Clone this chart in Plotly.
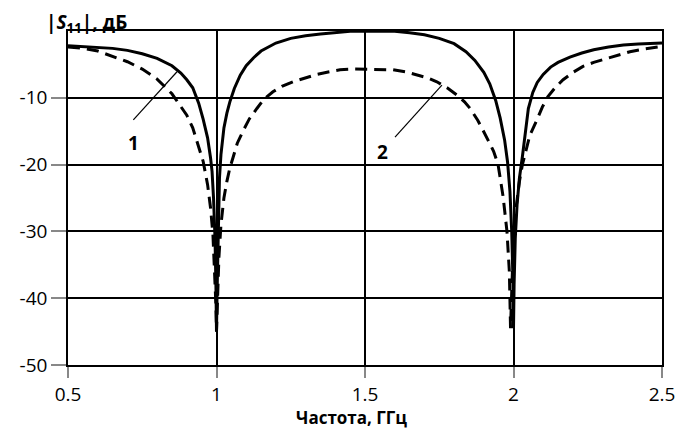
import plotly.graph_objects as go

# Curve 1 (solid)
freq1 = [0.5, 0.55, 0.6, 0.65, 0.7, 0.75, 0.8, 0.85, 0.88, 0.9, 0.92, 0.94, 0.955, 0.97, 0.98,
         0.985, 0.99, 0.995, 0.998, 1.0, 1.002, 1.005, 1.01, 1.015, 1.025, 1.035, 1.045, 1.06,
         1.08, 1.1, 1.125, 1.15, 1.2, 1.25, 1.3, 1.35, 1.4, 1.45, 1.5, 1.55, 1.6, 1.65, 1.7,
         1.75, 1.8, 1.84, 1.87, 1.9, 1.92, 1.94, 1.955, 1.97, 1.98, 1.988, 1.994, 1.998, 2.0,
         2.002, 2.006, 2.012, 2.02, 2.03, 2.04, 2.05, 2.065, 2.08, 2.1, 2.125, 2.15, 2.19,
         2.23, 2.27, 2.32, 2.37, 2.42, 2.46, 2.5]
s11_1 = [-2.2, -2.3, -2.4, -2.6, -2.9, -3.4, -4.1, -5.2, -6.3, -7.3, -8.5, -10.8, -13.2, -16.0,
         -19.0, -21.0, -25.0, -31.0, -38.0, -45.0, -39.0, -32.0, -22.0, -18.5, -14.5, -12.3,
         -10.6, -8.6, -6.6, -5.2, -4.0, -3.0, -1.8, -1.1, -0.7, -0.45, -0.2, -0.05, 0.0, 0.0,
         -0.05, -0.25, -0.55, -1.1, -1.9, -3.1, -4.4, -6.2, -7.9, -10.4, -13.0, -16.3, -19.6,
         -24.0, -30.0, -37.0, -44.5, -38.0, -31.0, -26.0, -22.0, -18.8, -14.8, -11.6, -9.2,
         -7.7, -6.5, -5.4, -4.7, -3.9, -3.3, -2.8, -2.4, -2.1, -1.95, -1.85, -1.8]

# Curve 2 (dashed)
freq2 = [0.5, 0.55, 0.6, 0.65, 0.7, 0.75, 0.8, 0.85, 0.88, 0.9, 0.92, 0.94, 0.955, 0.97, 0.98,
         0.988, 0.994, 0.998, 1.0, 1.003, 1.008, 1.015, 1.025, 1.035, 1.045, 1.056, 1.07, 1.089,
         1.11, 1.136, 1.16, 1.19, 1.22, 1.258, 1.3, 1.338, 1.38, 1.416, 1.46, 1.5, 1.55, 1.594,
         1.635, 1.675, 1.71, 1.742, 1.78, 1.81, 1.835, 1.854, 1.88, 1.899, 1.915, 1.933, 1.948,
         1.965, 1.978, 1.986, 1.99, 1.994, 2.0, 2.01, 2.02, 2.03, 2.039, 2.055, 2.079, 2.097,
         2.116, 2.14, 2.167, 2.2, 2.234, 2.27, 2.315, 2.35, 2.392, 2.44, 2.483, 2.5]
s11_2 = [-2.4, -2.6, -3.0, -3.8, -4.6, -5.7, -7.2, -9.4, -11.3, -12.6, -14.5, -17.2, -19.5,
         -23.0, -26.5, -30.5, -36.0, -41.0, -45.0, -40.0, -34.0, -29.0, -25.0, -22.5, -20.5,
         -18.9, -16.8, -15.0, -13.2, -11.6, -10.2, -9.1, -8.3, -7.6, -7.0, -6.5, -6.1, -5.8,
         -5.7, -5.7, -5.7, -5.8, -6.1, -6.6, -7.0, -7.6, -8.6, -9.6, -10.6, -11.6, -13.4, -15.0,
         -16.4, -18.0, -20.0, -24.8, -30.0, -36.0, -44.5, -38.0, -31.0, -26.0, -22.5, -20.0,
         -18.3, -15.6, -13.3, -11.4, -9.8, -8.5, -7.3, -6.2, -5.3, -4.7, -4.1, -3.6, -3.1,
         -2.7, -2.4, -2.3]

x_ticks = [0.5, 1, 1.5, 2, 2.5]
x_labels = ["0.5", "1", "1.5", "2", "2.5"]
y_ticks = [-50, -40, -30, -20, -10]
y_labels = ["-50", "-40", "-30", "-20", "-10"]

FONT = "Open Sans"

fig = go.Figure()
fig.add_trace(go.Scatter(x=freq2, y=s11_2, mode="lines",
                         line=dict(color="black", width=3, dash="12px,7px"),
                         showlegend=False, hoverinfo="skip"))
fig.add_trace(go.Scatter(x=freq1, y=s11_1, mode="lines",
                         line=dict(color="black", width=3),
                         showlegend=False, hoverinfo="skip"))

# leader lines for labels
fig.add_trace(go.Scatter(x=[0.72, 0.867], y=[-13.3, -6.1], mode="lines",
                         line=dict(color="black", width=1.2), showlegend=False, hoverinfo="skip"))
fig.add_trace(go.Scatter(x=[1.601, 1.759], y=[-15.9, -8.1], mode="lines",
                         line=dict(color="black", width=1.2), showlegend=False, hoverinfo="skip"))

fig.add_annotation(x=0.719, y=-16.8, text="<b>1</b>", showarrow=False,
                   font=dict(family=FONT, size=19, color="black"))
fig.add_annotation(x=1.56, y=-18.1, text="<b>2</b>", showarrow=False,
                   font=dict(family=FONT, size=19, color="black"))

fig.add_annotation(xref="paper", yref="paper", x=-0.04, y=1.024, xanchor="left", yanchor="middle",
                   text="<b>|<i>S</i><sub>11</sub>|, дБ</b>", showarrow=False,
                   font=dict(family=FONT, size=19, color="black"))
fig.add_annotation(xref="paper", yref="paper", x=0.478, y=-0.1976, xanchor="center", yanchor="bottom",
                   text="<b>Частота, ГГц</b>", showarrow=False,
                   font=dict(family=FONT, size=17, color="black"))

fig.update_layout(
    width=682, height=430,
    margin=dict(l=68, r=20, t=31, b=65, autoexpand=False),
    paper_bgcolor="white", plot_bgcolor="white",
    font=dict(family=FONT, size=19, color="black"),
    showlegend=False,
)
fig.update_xaxes(range=[0.5, 2.5], tickvals=x_ticks, ticktext=x_labels,
                 showgrid=True, gridcolor="black", gridwidth=1.5,
                 showline=True, linecolor="black", linewidth=1.5, mirror=True,
                 ticks="outside", ticklen=11, tickcolor="#888888", tickwidth=1.5,
                 zeroline=False, automargin=False)
fig.update_yaxes(range=[-50, 0], tickvals=y_ticks, ticktext=y_labels,
                 showgrid=True, gridcolor="black", gridwidth=1.5,
                 showline=True, linecolor="black", linewidth=1.5, mirror=True,
                 ticks="outside", ticklen=15, tickcolor="#888888", tickwidth=1.5,
                 zeroline=False, automargin=False)

fig.write_html("out.html", config={"displayModeBar": False})

with open("out.html", "r", encoding="utf-8") as fh:
    html = fh.read()
html = html.replace("<head>", "<head><style>html,body{margin:0;padding:0;overflow:hidden;}</style>", 1)
with open("out.html", "w", encoding="utf-8") as fh:
    fh.write(html)
